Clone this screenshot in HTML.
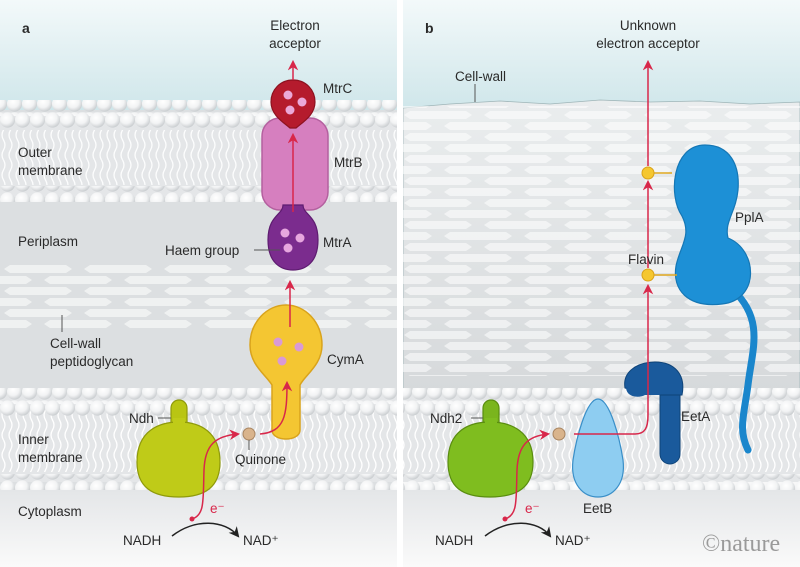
<!DOCTYPE html>
<html><head><meta charset="utf-8"><style>
html,body{margin:0;padding:0;background:#fff}
svg{display:block}
text{font-family:"Liberation Sans",sans-serif;font-size:13.5px;fill:#2a2a2a}
</style></head><body>
<svg width="800" height="567" viewBox="0 0 800 567" xmlns="http://www.w3.org/2000/svg">
<defs>
<linearGradient id="sky" x1="0" y1="0" x2="0" y2="1"><stop offset="0" stop-color="#f3f9fa"/><stop offset="1" stop-color="#cfe6ea"/></linearGradient>
<linearGradient id="cyto" x1="0" y1="0" x2="0" y2="1"><stop offset="0" stop-color="#e4e6e8"/><stop offset="1" stop-color="#fafafa"/></linearGradient>
<linearGradient id="wall" x1="0" y1="0" x2="0" y2="1"><stop offset="0" stop-color="#eaedee"/><stop offset="1" stop-color="#d6d9db"/></linearGradient>
<radialGradient id="ball" cx="0.4" cy="0.35" r="0.7"><stop offset="0" stop-color="#ffffff"/><stop offset="0.55" stop-color="#f2f3f4"/><stop offset="1" stop-color="#c4c8cb"/></radialGradient>
<pattern id="heads" x="0" y="0" width="15" height="16" patternUnits="userSpaceOnUse">
<circle cx="7.5" cy="8" r="7.6" fill="url(#ball)"/>
</pattern>
<pattern id="heads2" x="7" y="0" width="15" height="16" patternUnits="userSpaceOnUse">
<circle cx="7.5" cy="8" r="7.6" fill="url(#ball)"/>
</pattern>
<pattern id="tails" x="0" y="0" width="7" height="40" patternUnits="userSpaceOnUse">
<path d="M3.5,0 q3,5 0,10 q-3,5 0,10 q3,5 0,10 q-3,5 0,10" fill="none" stroke="#fff" stroke-width="1.3"/>
</pattern>
<pattern id="hex" x="0" y="0" width="80" height="22" patternUnits="userSpaceOnUse">
<path d="M4,5 L10,1 L66,1 L72,5 L66,9 L10,9 Z" fill="#ffffff" fill-opacity="0.55"/>
<path d="M44,16 L50,12 L106,12 L112,16 L106,20 L50,20 Z M-36,16 L-30,12 L26,12 L32,16 L26,20 L-30,20 Z" fill="#ffffff" fill-opacity="0.55"/>
</pattern>
<marker id="ar" viewBox="0 0 10 10" refX="8" refY="5" markerWidth="7" markerHeight="7" orient="auto-start-reverse"><path d="M0,0 L10,5 L0,10 L3,5 Z" fill="#d8274a"/></marker>
<marker id="ak" viewBox="0 0 10 10" refX="8" refY="5" markerWidth="7" markerHeight="7" orient="auto"><path d="M0,0 L10,5 L0,10 L3,5 Z" fill="#222"/></marker>
</defs>

<!-- LEFT PANEL -->
<g>
<rect x="0" y="0" width="397" height="567" fill="url(#cyto)"/>
<rect x="0" y="0" width="397" height="110" fill="url(#sky)"/>
<rect x="0" y="110" width="397" height="380" fill="#dcdfe1"/>
<rect x="0" y="112" width="397" height="85" fill="#e4e6e8"/>
<rect x="0" y="130" width="397" height="55" fill="url(#tails)" opacity="0.9"/>
<rect x="0" y="100" width="397" height="16" fill="url(#heads2)"/>
<rect x="0" y="112" width="397" height="16" fill="url(#heads)"/>
<rect x="0" y="186" width="397" height="16" fill="url(#heads)"/>
<rect x="0" y="264" width="397" height="66" fill="url(#hex)"/>
<rect x="0" y="392" width="397" height="90" fill="#e4e6e8"/>
<rect x="0" y="410" width="397" height="62" fill="url(#tails)"/>
<rect x="0" y="388" width="397" height="16" fill="url(#heads2)"/>
<rect x="0" y="400" width="397" height="16" fill="url(#heads)"/>
<rect x="0" y="474" width="397" height="16" fill="url(#heads)"/>
<rect x="0" y="490" width="397" height="77" fill="url(#cyto)"/>
</g>

<!-- RIGHT PANEL -->
<g>
<rect x="403" y="0" width="397" height="567" fill="url(#cyto)"/>
<rect x="403" y="0" width="397" height="110" fill="url(#sky)"/>
<path d="M403,108 L450,104 L500,101 L550,104 L600,100 L650,102 L700,101 L750,104 L800,102 L800,392 L403,392 Z" fill="url(#wall)" stroke="#9fb5b8" stroke-width="0.8"/>
<rect x="403" y="106" width="397" height="270" fill="url(#hex)"/>
<rect x="403" y="392" width="397" height="90" fill="#e4e6e8"/>
<rect x="403" y="410" width="397" height="62" fill="url(#tails)"/>
<rect x="403" y="388" width="397" height="16" fill="url(#heads2)"/>
<rect x="403" y="400" width="397" height="16" fill="url(#heads)"/>
<rect x="403" y="474" width="397" height="16" fill="url(#heads)"/>
<rect x="403" y="490" width="397" height="77" fill="url(#cyto)"/>
</g>
<rect x="397" y="0" width="6" height="567" fill="#fff"/>

<!-- LEFT proteins -->
<rect x="262" y="118" width="66" height="92" rx="18" fill="#d67fbf" stroke="#b4609f" stroke-width="1.5"/>
<path d="M283,205 L303,205 C303,215 318,215 318,240 C318,262 306,270 293,270 C280,270 268,262 268,240 C268,215 283,215 283,205 Z" fill="#7b2c8e" stroke="#5e1c70" stroke-width="1.2"/>
<circle cx="285" cy="233" r="4.5" fill="#e7a7df"/><circle cx="300" cy="238" r="4.5" fill="#e7a7df"/><circle cx="288" cy="248" r="4.5" fill="#e7a7df"/>
<path d="M293,80 C306,80 315,90 315,102 C315,115 303,122 296,128 L290,128 C283,122 271,115 271,102 C271,90 280,80 293,80 Z" fill="#b51b2d" stroke="#8d1220" stroke-width="1.2"/>
<circle cx="288" cy="95" r="4.5" fill="#eba8d8"/><circle cx="302" cy="102" r="4.5" fill="#eba8d8"/><circle cx="290" cy="110" r="4.5" fill="#eba8d8"/>
<path d="M286,305 C305,305 322,322 322,345 C322,365 305,375 300,385 L300,430 C300,442 272,442 272,430 L272,385 C266,375 250,365 250,345 C250,322 267,305 286,305 Z" fill="#f4c632" stroke="#d9a31c" stroke-width="1.5"/>
<circle cx="278" cy="342" r="4.5" fill="#d99ad6"/><circle cx="299" cy="347" r="4.5" fill="#d99ad6"/><circle cx="282" cy="361" r="4.5" fill="#d99ad6"/>
<rect x="171" y="400" width="16" height="35" rx="8" fill="#b9c513" stroke="#8f9a0a" stroke-width="1.2"/>
<path d="M137,462 C137,430 160,422 179,422 C200,422 220,432 220,462 C220,487 205,497 179,497 C152,497 137,487 137,462 Z" fill="#bfcb18" stroke="#8f9a0a" stroke-width="1.2"/>
<rect x="173" y="418" width="12" height="10" fill="#bfcb18"/>
<circle cx="249" cy="434" r="6" fill="#d9b48c" stroke="#a88460"/>
<path d="M293,80 L293,62" stroke="#d8274a" stroke-width="1.5" fill="none" marker-end="url(#ar)"/>
<path d="M293,212 L293,135" stroke="#d8274a" stroke-width="1.5" fill="none" marker-end="url(#ar)"/>
<path d="M290,327 L290,282" stroke="#d8274a" stroke-width="1.5" fill="none" marker-end="url(#ar)"/>
<path d="M192,519 C205,515 203,500 204,470 C205,445 215,436 238,434" stroke="#d8274a" stroke-width="1.5" fill="none" marker-end="url(#ar)"/>
<path d="M260,434 C285,432 287,415 287,383" stroke="#d8274a" stroke-width="1.5" fill="none" marker-end="url(#ar)"/>
<circle cx="192" cy="519" r="2.5" fill="#d8274a"/>
<path d="M172,536 C195,518 225,520 238,536" stroke="#222" stroke-width="1.5" fill="none" marker-end="url(#ak)"/>
<line x1="158" y1="418" x2="171" y2="418" stroke="#555"/>
<line x1="254" y1="250" x2="280" y2="250" stroke="#555"/>
<line x1="249" y1="440" x2="249" y2="450" stroke="#555"/>
<line x1="62" y1="315" x2="62" y2="332" stroke="#555"/>

<text x="22" y="33" style="font-weight:bold;font-size:14px">a</text>
<text x="295" y="30" text-anchor="middle">Electron</text>
<text x="295" y="48" text-anchor="middle">acceptor</text>
<text x="323" y="93">MtrC</text>
<text x="334" y="167">MtrB</text>
<text x="323" y="247">MtrA</text>
<text x="165" y="255">Haem group</text>
<text x="327" y="364">CymA</text>
<text x="18" y="157">Outer</text>
<text x="18" y="175">membrane</text>
<text x="18" y="246">Periplasm</text>
<text x="50" y="348">Cell-wall</text>
<text x="50" y="366">peptidoglycan</text>
<text x="129" y="423">Ndh</text>
<text x="18" y="444">Inner</text>
<text x="18" y="462">membrane</text>
<text x="235" y="464">Quinone</text>
<text x="18" y="516">Cytoplasm</text>
<text x="210" y="513" style="fill:#d8274a">e⁻</text>
<text x="123" y="545">NADH</text>
<text x="243" y="545">NAD⁺</text>

<!-- RIGHT proteins -->
<path d="M733,290 C765,320 752,350 748,385 C744,415 738,430 748,450" stroke="#1a86cc" stroke-width="7" fill="none" stroke-linecap="round"/>
<path d="M705,145 C730,145 740,165 738,190 C736,212 724,222 728,238 C758,250 760,300 722,304 C688,308 672,290 676,266 C680,246 692,236 682,216 C668,196 672,145 705,145 Z" fill="#1d90d6" stroke="#1577b5" stroke-width="1.2"/>
<line x1="654" y1="173" x2="672" y2="173" stroke="#e0a820" stroke-width="1.5"/>
<line x1="654" y1="275" x2="677" y2="275" stroke="#e0a820" stroke-width="1.5"/>
<rect x="660" y="380" width="20" height="84" rx="10" fill="#1a5a9c" stroke="#0f4479"/>
<path d="M625,388 C622,370 640,362 655,362 C675,362 686,375 682,395 L660,395 C657,392 640,392 625,388 Z" fill="#1a5a9c" stroke="#0f4479"/>
<path d="M626,388 C627,398 640,398 645,395 L660,395 L662,385 Z" fill="#1a5a9c"/>
<path d="M598,399 C610,399 620,440 623,460 C626,485 612,497 598,497 C584,497 570,485 573,460 C576,440 586,399 598,399 Z" fill="#8ecdf1" stroke="#3a8fc8" stroke-width="1.2"/>
<rect x="483" y="400" width="16" height="35" rx="8" fill="#7ab51d" stroke="#5a8d10" stroke-width="1.2"/>
<path d="M448,462 C448,430 470,422 490,422 C512,422 533,432 533,462 C533,487 518,497 490,497 C462,497 448,487 448,462 Z" fill="#7fbd1f" stroke="#5a8d10" stroke-width="1.2"/>
<rect x="485" y="418" width="12" height="10" fill="#7fbd1f"/>
<circle cx="559" cy="434" r="6" fill="#d9b48c" stroke="#a88460"/>
<path d="M505,519 C518,515 516,500 517,470 C518,445 528,436 548,434" stroke="#d8274a" stroke-width="1.5" fill="none" marker-end="url(#ar)"/>
<circle cx="505" cy="519" r="2.5" fill="#d8274a"/>
<path d="M574,434 L635,434 C645,434 648,428 648,415 L648,286" stroke="#d8274a" stroke-width="1.5" fill="none" marker-end="url(#ar)"/>
<path d="M648,268 L648,182" stroke="#d8274a" stroke-width="1.5" fill="none" marker-end="url(#ar)"/>
<path d="M648,166 L648,62" stroke="#d8274a" stroke-width="1.5" fill="none" marker-end="url(#ar)"/>
<circle cx="648" cy="173" r="6" fill="#f5c72f" stroke="#d9a21a"/>
<circle cx="648" cy="275" r="6" fill="#f5c72f" stroke="#d9a21a"/>
<path d="M485,536 C508,518 538,520 550,536" stroke="#222" stroke-width="1.5" fill="none" marker-end="url(#ak)"/>
<line x1="475" y1="84" x2="475" y2="102" stroke="#555"/>
<line x1="471" y1="418" x2="483" y2="418" stroke="#555"/>

<text x="425" y="33" style="font-weight:bold;font-size:14px">b</text>
<text x="648" y="30" text-anchor="middle">Unknown</text>
<text x="648" y="48" text-anchor="middle">electron acceptor</text>
<text x="455" y="81">Cell-wall</text>
<text x="735" y="222">PplA</text>
<text x="628" y="264">Flavin</text>
<text x="681" y="421">EetA</text>
<text x="430" y="423">Ndh2</text>
<text x="583" y="513">EetB</text>
<text x="525" y="513" style="fill:#d8274a">e⁻</text>
<text x="435" y="545">NADH</text>
<text x="555" y="545">NAD⁺</text>
<text x="702" y="551" style="font-family:'Liberation Serif',serif;font-size:24px;fill:#9a9a9a">©nature</text>
</svg>
</body></html>
